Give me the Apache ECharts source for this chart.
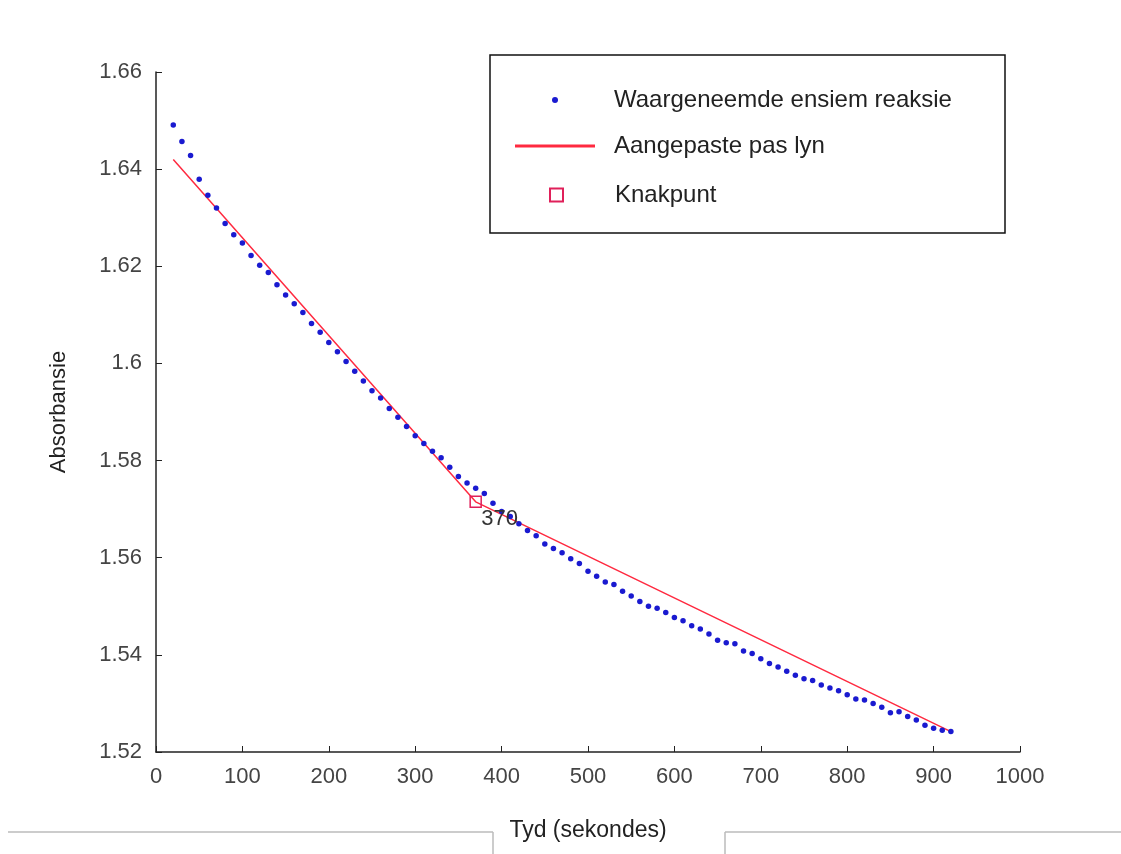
<!DOCTYPE html>
<html>
<head>
<meta charset="utf-8">
<script src="https://cdn.jsdelivr.net/npm/echarts@6/dist/echarts.min.js"></script>
<style>
  html, body { margin: 0; padding: 0; background: #fff; }
  #chart { width: 1121px; height: 854px; }
</style>
</head>
<body>
<div id="chart"></div>
<script>
// tyd (s) van elke meting
const tyd = [20, 30, 40, 50, 60, 70, 80, 90, 100, 110, 120, 130, 140, 150, 160, 170, 180, 190, 200,
  210, 220, 230, 240, 250, 260, 270, 280, 290, 300, 310, 320, 330, 340, 350, 360, 370, 380, 390, 400,
  410, 420, 430, 440, 450, 460, 470, 480, 490, 500, 510, 520, 530, 540, 550, 560, 570, 580, 590, 600,
  610, 620, 630, 640, 650, 660, 670, 680, 690, 700, 710, 720, 730, 740, 750, 760, 770, 780, 790, 800,
  810, 820, 830, 840, 850, 860, 870, 880, 890, 900, 910, 920]

// waargeneemde absorbansie
const absorbansie = [1.6491, 1.6457, 1.6428, 1.6379, 1.6346, 1.6320, 1.6288, 1.6265, 1.6248, 1.6222,
  1.6202, 1.6187, 1.6162, 1.6141, 1.6123, 1.6105, 1.6082, 1.6064, 1.6043, 1.6024, 1.6004, 1.5984,
  1.5964, 1.5944, 1.5929, 1.5907, 1.5889, 1.5870, 1.5851, 1.5835, 1.5819, 1.5806, 1.5786, 1.5767,
  1.5754, 1.5743, 1.5732, 1.5712, 1.5695, 1.5685, 1.5670, 1.5656, 1.5645, 1.5628, 1.5619, 1.5610,
  1.5598, 1.5588, 1.5572, 1.5562, 1.5550, 1.5545, 1.5531, 1.5521, 1.5510, 1.5500, 1.5496, 1.5487,
  1.5477, 1.5470, 1.5460, 1.5453, 1.5443, 1.5430, 1.5425, 1.5423, 1.5408, 1.5403, 1.5392, 1.5382,
  1.5375, 1.5366, 1.5358, 1.5351, 1.5347, 1.5338, 1.5332, 1.5326, 1.5318, 1.5309, 1.5307, 1.5300,
  1.5292, 1.5281, 1.5283, 1.5273, 1.5266, 1.5255, 1.5249, 1.5245, 1.5242]

// aangepaste pas lyn (twee reguit stukke)
const pasTyd = [20, 370, 920]
const pasWaarde = [1.6420, 1.5715, 1.5242]

// knakpunt
const knakTyd = [370]
const knakWaarde = [1.5715]

const yTicks = ['1.52', '1.54', '1.56', '1.58', '1.6', '1.62', '1.64', '1.66']
const xTicks = ['0', '100', '200', '300', '400', '500', '600', '700', '800', '900', '1000']

const names = ['Waargeneemde ensiem reaksie', 'Aangepaste pas lyn', 'Knakpunt']

const font = 'Liberation Sans'
const chart = echarts.init(document.getElementById('chart'))

const legendText = (pad) => ({ fontSize: 24, color: '#222', fontFamily: font, padding: [0, 0, 0, pad] })

const option = {
  backgroundColor: '#fff',
  animation: false,
  textStyle: { fontFamily: font },
  grid: { left: 156, right: 101, top: 72, bottom: 102 },
  xAxis: {
    type: 'value',
    min: 0, max: 1000, interval: 100,
    name: 'Tyd (sekondes)',
    nameLocation: 'middle',
    nameGap: 67,
    nameTextStyle: { fontSize: 23, color: '#222', fontFamily: font },
    axisLine: { lineStyle: { color: '#222', width: 1.5 } },
    axisTick: { inside: true, length: 6, lineStyle: { color: '#222' } },
    axisLabel: {
      fontSize: 22, color: '#444', margin: 14, fontFamily: font,
      formatter: (v) => xTicks[Math.round(v / 100)]
    },
    splitLine: { show: false }
  },
  yAxis: {
    type: 'value',
    min: 1.52, max: 1.66, interval: 0.02,
    name: 'Absorbansie',
    nameLocation: 'middle',
    nameGap: 86,
    nameTextStyle: { fontSize: 22, color: '#222', fontFamily: font },
    axisLine: { show: true, lineStyle: { color: '#222', width: 1.5 } },
    axisTick: { show: true, inside: true, length: 6, lineStyle: { color: '#222' } },
    axisLabel: {
      fontSize: 22, color: '#444', margin: 14, fontFamily: font,
      formatter: (v) => yTicks[Math.round((v - 1.52) / 0.02)]
    },
    splitLine: { show: false }
  },
  legend: [
    {
      data: [{ name: names[0], icon: 'circle', itemStyle: { color: '#1a1ad0', opacity: 1 } }],
      left: 547, top: 83,
      itemWidth: 6, itemHeight: 6,
      textStyle: legendText(51)
    },
    {
      data: [{ name: names[1], icon: 'rect', itemStyle: { color: '#ff2a40' } }],
      left: 510, top: 129,
      itemWidth: 80, itemHeight: 3,
      textStyle: legendText(14)
    },
    {
      data: [{ name: names[2], icon: 'rect',
        itemStyle: { color: '#fff', borderColor: '#e0205a', borderWidth: 2 } }],
      left: 544, top: 178,
      itemWidth: 13, itemHeight: 13,
      textStyle: legendText(47)
    }
  ],
  graphic: [
    {
      type: 'rect',
      shape: { x: 490, y: 55, width: 515, height: 178 },
      style: { fill: 'none', stroke: '#111', lineWidth: 1.5 },
      z: 100
    },
    { type: 'line', shape: { x1: 8, y1: 832, x2: 493, y2: 832 }, style: { stroke: '#bbb', lineWidth: 1.5 } },
    { type: 'line', shape: { x1: 493, y1: 832, x2: 493, y2: 854 }, style: { stroke: '#bbb', lineWidth: 1.5 } },
    { type: 'line', shape: { x1: 725, y1: 832, x2: 1121, y2: 832 }, style: { stroke: '#bbb', lineWidth: 1.5 } },
    { type: 'line', shape: { x1: 725, y1: 832, x2: 725, y2: 854 }, style: { stroke: '#bbb', lineWidth: 1.5 } }
  ],
  series: [
    {
      name: names[0],
      type: 'scatter',
      symbol: 'circle',
      symbolSize: 5.5,
      itemStyle: { color: '#1a1ad0', opacity: 1 },
      data: tyd.map((t, i) => [t, absorbansie[i]]),
      z: 3
    },
    {
      name: names[1],
      type: 'line',
      symbol: 'none',
      lineStyle: { color: '#ff2a40', width: 1.5 },
      itemStyle: { color: '#ff2a40' },
      data: pasTyd.map((t, i) => [t, pasWaarde[i]]),
      z: 2
    },
    {
      name: names[2],
      type: 'scatter',
      symbol: 'rect',
      symbolSize: 11,
      itemStyle: { color: 'rgba(255,255,255,0)', borderColor: '#e0205a', borderWidth: 1.5, opacity: 1 },
      label: {
        show: true,
        position: 'bottom',
        distance: 2,
        offset: [24, -2],
        formatter: (p) => String(knakTyd[p.dataIndex]),
        fontSize: 22, color: '#333', fontFamily: font
      },
      data: knakTyd.map((t, i) => [t, knakWaarde[i]]),
      z: 4
    }
  ]
}

chart.setOption(option)
</script>
</body>
</html>
